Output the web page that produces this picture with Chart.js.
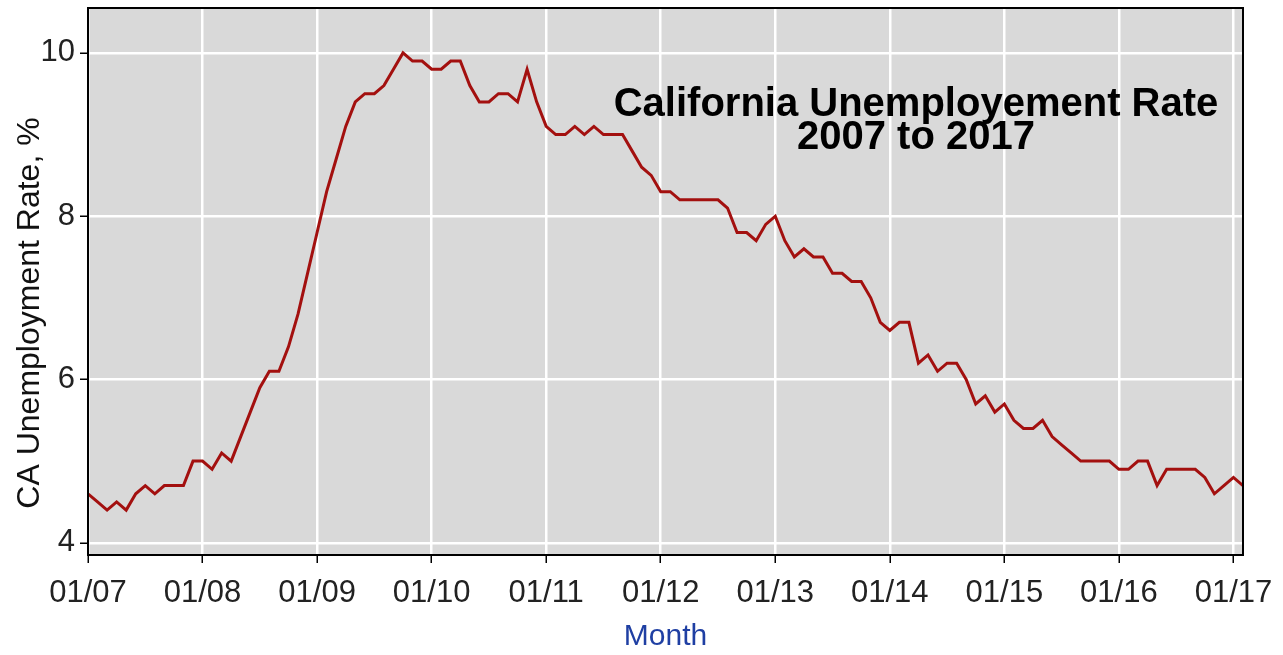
<!DOCTYPE html>
<html>
<head>
<meta charset="utf-8">
<script src="https://cdn.jsdelivr.net/npm/chart.js@4.4.1/dist/chart.umd.min.js"></script>
<style>
  html, body { margin: 0; padding: 0; background: #fff; }
  canvas { display: block; }
</style>
</head>
<body>
<canvas id="myChart" width="1283" height="655"></canvas>
<script>
// monthly CA unemployment rate, % (Jan..Dec)
const y2007 = [4.6, 4.5, 4.4, 4.5, 4.4, 4.6, 4.7, 4.6, 4.7, 4.7, 4.7, 5.0]
const y2008 = [5.0, 4.9, 5.1, 5.0, 5.3, 5.6, 5.9, 6.1, 6.1, 6.4, 6.8, 7.3]
const y2009 = [7.8, 8.3, 8.7, 9.1, 9.4, 9.5, 9.5, 9.6, 9.8, 10.0, 9.9, 9.9]
const y2010 = [9.8, 9.8, 9.9, 9.9, 9.6, 9.4, 9.4, 9.5, 9.5, 9.4, 9.8, 9.4]
const y2011 = [9.1, 9.0, 9.0, 9.1, 9.0, 9.1, 9.0, 9.0, 9.0, 8.8, 8.6, 8.5]
const y2012 = [8.3, 8.3, 8.2, 8.2, 8.2, 8.2, 8.2, 8.1, 7.8, 7.8, 7.7, 7.9]
const y2013 = [8.0, 7.7, 7.5, 7.6, 7.5, 7.5, 7.3, 7.3, 7.2, 7.2, 7.0, 6.7]
const y2014 = [6.6, 6.7, 6.7, 6.2, 6.3, 6.1, 6.2, 6.2, 6.0, 5.7, 5.8, 5.6]
const y2015 = [5.7, 5.5, 5.4, 5.4, 5.5, 5.3, 5.2, 5.1, 5.0, 5.0, 5.0, 5.0]
const y2016 = [4.9, 4.9, 5.0, 5.0, 4.7, 4.9, 4.9, 4.9, 4.9, 4.8, 4.6, 4.7]
const y2017 = [4.8, 4.7]

const years = [2007, 2008, 2009, 2010, 2011, 2012, 2013, 2014, 2015, 2016, 2017]
const rates = [].concat(y2007, y2008, y2009, y2010, y2011, y2012, y2013, y2014, y2015, y2016, y2017)

// one category per month, "01/07" style
const months = []
years.forEach(yr => {
    for (let m = 1; m <= 12; m++) {
        months.push(String(m).padStart(2, '0') + '/' + String(yr).slice(2))
    }
})
months.length = rates.length

const xTickLabels = ['01/07', '01/08', '01/09', '01/10', '01/11', '01/12', '01/13', '01/14', '01/15', '01/16', '01/17']
const yTicks = [4, 6, 8, 10]

const titleLines = ['California Unemployement Rate', '2007 to 2017']
const yTitle = 'CA Unemployment Rate, %'
const xTitle = 'Month'

const FONT = '"Liberation Sans", Arial, sans-serif'

const points = rates.map((v, i) => ({ x: i, y: v }))

const plotDecor = {
    id: 'plotDecor',
    beforeDraw(chart) {
        const { ctx, chartArea: a } = chart
        ctx.save()
        ctx.fillStyle = '#d9d9d9'
        ctx.fillRect(a.left, a.top, a.right - a.left, a.bottom - a.top)
        ctx.restore()
    },
    afterDraw(chart) {
        const { ctx, chartArea: a } = chart
        ctx.save()
        // frame around plot
        ctx.strokeStyle = '#000'
        ctx.lineWidth = 2
        ctx.strokeRect(a.left, a.top, a.right - a.left, a.bottom - a.top)

        // title inside the plot
        ctx.fillStyle = '#000'
        ctx.font = 'bold 40px ' + FONT
        ctx.textAlign = 'center'
        ctx.textBaseline = 'alphabetic'
        ctx.fillText(titleLines[0], 916, 116)
        ctx.fillText(titleLines[1], 916, 149)

        // y axis title
        ctx.translate(30, 313)
        ctx.rotate(-Math.PI / 2)
        ctx.font = '32px ' + FONT
        ctx.fillStyle = '#111'
        ctx.textBaseline = 'middle'
        ctx.fillText(yTitle, 0, 0)
        ctx.restore()
    }
}

const ctx = document.getElementById('myChart').getContext('2d')
const myChart = new Chart(ctx, {
    type: 'line',
    data: {
        labels: months,
        datasets: [{
            data: points,
            borderColor: '#a3100f',
            borderWidth: 3,
            pointRadius: 0,
            tension: 0,
            fill: false
        }]
    },
    options: {
        responsive: false,
        animation: false,
        layout: { padding: { top: 8, right: 40, left: 0, bottom: 0 } },
        plugins: {
            legend: { display: false },
            tooltip: { enabled: false }
        },
        scales: {
            x: {
                type: 'linear',
                min: 0,
                max: rates.length - 1,
                afterFit: s => {
                    s.height = 100
                    s.paddingLeft = 0
                    s.paddingRight = 0
                },
                border: { display: false },
                grid: {
                    color: '#ffffff',
                    lineWidth: 2.5,
                    drawTicks: true,
                    tickColor: '#000',
                    tickWidth: 1.5,
                    tickLength: 8
                },
                ticks: {
                    stepSize: 12,
                    includeBounds: false,
                    autoSkip: false,
                    maxRotation: 0,
                    padding: 12,
                    color: '#222',
                    font: { family: FONT, size: 31 },
                    callback: v => xTickLabels[v / 12]
                },
                title: {
                    display: true,
                    text: xTitle,
                    color: '#1f3fa3',
                    font: { family: FONT, size: 30 },
                    padding: { top: 0, bottom: 0 }
                }
            },
            y: {
                min: 3.85,
                max: 10.55,
                afterFit: s => {
                    s.width = 88
                    s.paddingTop = 0
                    s.paddingBottom = 0
                },
                afterBuildTicks: s => { s.ticks = yTicks.map(v => ({ value: v })) },
                border: { display: false },
                grid: {
                    color: '#ffffff',
                    lineWidth: 2.5,
                    tickColor: '#000',
                    tickWidth: 1.5,
                    tickLength: 8
                },
                ticks: {
                    padding: 5,
                    color: '#222',
                    font: { family: FONT, size: 31 }
                }
            }
        }
    },
    plugins: [plotDecor]
})
</script>
</body>
</html>
